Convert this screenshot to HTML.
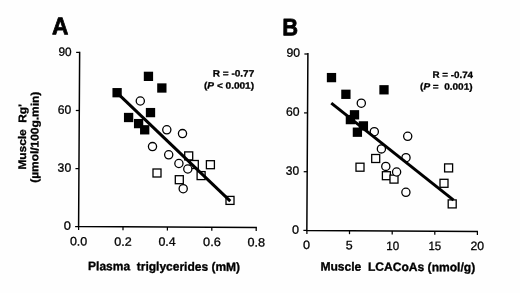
<!DOCTYPE html>
<html><head><meta charset="utf-8"><style>
html,body{margin:0;padding:0;background:#fefefe;width:520px;height:293px;overflow:hidden}
svg{display:block;will-change:transform;font-family:"Liberation Sans",sans-serif}
</style></head><body>
<svg width="520" height="293" viewBox="0 0 520 293">
<path d="M79.65,51.8 L78.6,226.5 L256.9,227.6" fill="none" stroke="#000" stroke-width="1.5" stroke-linejoin="miter"/>
<line x1="76.15" y1="52.4" x2="79.65" y2="52.4" stroke="#000" stroke-width="1.25"/>
<line x1="75.80" y1="110.5" x2="79.30" y2="110.5" stroke="#000" stroke-width="1.25"/>
<line x1="75.45" y1="168.6" x2="78.95" y2="168.6" stroke="#000" stroke-width="1.25"/>
<line x1="75.10" y1="226.6" x2="78.60" y2="226.6" stroke="#000" stroke-width="1.25"/>
<line x1="78.6" y1="226.50" x2="78.6" y2="230.00" stroke="#000" stroke-width="1.25"/>
<line x1="123.0" y1="226.77" x2="123.0" y2="230.27" stroke="#000" stroke-width="1.25"/>
<line x1="167.4" y1="227.05" x2="167.4" y2="230.55" stroke="#000" stroke-width="1.25"/>
<line x1="211.8" y1="227.32" x2="211.8" y2="230.82" stroke="#000" stroke-width="1.25"/>
<line x1="256.2" y1="227.60" x2="256.2" y2="231.10" stroke="#000" stroke-width="1.25"/>
<path d="M307.9,53.1 L306.85,230.4 L478.0,231.5" fill="none" stroke="#000" stroke-width="1.5" stroke-linejoin="miter"/>
<line x1="304.39" y1="54.0" x2="307.89" y2="54.0" stroke="#000" stroke-width="1.25"/>
<line x1="304.05" y1="112.9" x2="307.55" y2="112.9" stroke="#000" stroke-width="1.25"/>
<line x1="303.70" y1="171.7" x2="307.20" y2="171.7" stroke="#000" stroke-width="1.25"/>
<line x1="303.35" y1="230.4" x2="306.85" y2="230.4" stroke="#000" stroke-width="1.25"/>
<line x1="306.9" y1="230.40" x2="306.9" y2="233.90" stroke="#000" stroke-width="1.25"/>
<line x1="349.5" y1="230.67" x2="349.5" y2="234.17" stroke="#000" stroke-width="1.25"/>
<line x1="392.2" y1="230.95" x2="392.2" y2="234.45" stroke="#000" stroke-width="1.25"/>
<line x1="434.8" y1="231.22" x2="434.8" y2="234.72" stroke="#000" stroke-width="1.25"/>
<line x1="477.4" y1="231.50" x2="477.4" y2="235.00" stroke="#000" stroke-width="1.25"/>
<rect x="184.70" y="151.90" width="8.0" height="8.0" fill="#fefefe" stroke="#000" stroke-width="1.3"/>
<rect x="190.30" y="160.50" width="8.0" height="8.0" fill="#fefefe" stroke="#000" stroke-width="1.3"/>
<rect x="206.40" y="160.70" width="8.0" height="8.0" fill="#fefefe" stroke="#000" stroke-width="1.3"/>
<rect x="153.00" y="169.00" width="8.0" height="8.0" fill="#fefefe" stroke="#000" stroke-width="1.3"/>
<rect x="197.10" y="171.60" width="8.0" height="8.0" fill="#fefefe" stroke="#000" stroke-width="1.3"/>
<rect x="175.30" y="175.70" width="8.0" height="8.0" fill="#fefefe" stroke="#000" stroke-width="1.3"/>
<rect x="226.00" y="196.40" width="8.0" height="8.0" fill="#fefefe" stroke="#000" stroke-width="1.3"/>
<circle cx="140.3" cy="101" r="4.1" fill="#fefefe" stroke="#000" stroke-width="1.3"/>
<circle cx="166.8" cy="129.8" r="4.1" fill="#fefefe" stroke="#000" stroke-width="1.3"/>
<circle cx="182.5" cy="133.6" r="4.1" fill="#fefefe" stroke="#000" stroke-width="1.3"/>
<circle cx="152.5" cy="146.6" r="4.1" fill="#fefefe" stroke="#000" stroke-width="1.3"/>
<circle cx="168.7" cy="154.8" r="4.1" fill="#fefefe" stroke="#000" stroke-width="1.3"/>
<circle cx="178.9" cy="163.5" r="4.1" fill="#fefefe" stroke="#000" stroke-width="1.3"/>
<circle cx="187.8" cy="169" r="4.1" fill="#fefefe" stroke="#000" stroke-width="1.3"/>
<circle cx="183.2" cy="188.7" r="4.1" fill="#fefefe" stroke="#000" stroke-width="1.3"/>
<line x1="117.1" y1="92.9" x2="230.3" y2="201.2" stroke="#000" stroke-width="3.0"/>
<rect x="143.80" y="71.70" width="9.3" height="9.3" fill="#000"/>
<rect x="157.20" y="83.35" width="9.3" height="9.3" fill="#000"/>
<rect x="112.45" y="88.05" width="9.3" height="9.3" fill="#000"/>
<rect x="145.85" y="107.95" width="9.3" height="9.3" fill="#000"/>
<rect x="123.95" y="112.85" width="9.3" height="9.3" fill="#000"/>
<rect x="133.95" y="118.95" width="9.3" height="9.3" fill="#000"/>
<rect x="140.05" y="125.15" width="9.3" height="9.3" fill="#000"/>
<rect x="371.70" y="154.50" width="8.0" height="8.0" fill="#fefefe" stroke="#000" stroke-width="1.3"/>
<rect x="356.00" y="163.20" width="8.0" height="8.0" fill="#fefefe" stroke="#000" stroke-width="1.3"/>
<rect x="382.40" y="171.70" width="8.0" height="8.0" fill="#fefefe" stroke="#000" stroke-width="1.3"/>
<rect x="390.00" y="175.10" width="8.0" height="8.0" fill="#fefefe" stroke="#000" stroke-width="1.3"/>
<rect x="444.60" y="163.90" width="8.0" height="8.0" fill="#fefefe" stroke="#000" stroke-width="1.3"/>
<rect x="440.00" y="179.30" width="8.0" height="8.0" fill="#fefefe" stroke="#000" stroke-width="1.3"/>
<rect x="448.20" y="199.90" width="8.0" height="8.0" fill="#fefefe" stroke="#000" stroke-width="1.3"/>
<circle cx="361.3" cy="103.2" r="4.1" fill="#fefefe" stroke="#000" stroke-width="1.3"/>
<circle cx="374.3" cy="131.7" r="4.1" fill="#fefefe" stroke="#000" stroke-width="1.3"/>
<circle cx="407.7" cy="136.3" r="4.1" fill="#fefefe" stroke="#000" stroke-width="1.3"/>
<circle cx="381.4" cy="148.9" r="4.1" fill="#fefefe" stroke="#000" stroke-width="1.3"/>
<circle cx="406" cy="157.7" r="4.1" fill="#fefefe" stroke="#000" stroke-width="1.3"/>
<circle cx="385.8" cy="166.4" r="4.1" fill="#fefefe" stroke="#000" stroke-width="1.3"/>
<circle cx="396.6" cy="172.0" r="4.1" fill="#fefefe" stroke="#000" stroke-width="1.3"/>
<circle cx="405.9" cy="192.3" r="4.1" fill="#fefefe" stroke="#000" stroke-width="1.3"/>
<line x1="331.3" y1="103.1" x2="453.6" y2="200.2" stroke="#000" stroke-width="3.0"/>
<rect x="326.85" y="72.95" width="9.3" height="9.3" fill="#000"/>
<rect x="341.25" y="89.65" width="9.3" height="9.3" fill="#000"/>
<rect x="379.35" y="85.15" width="9.3" height="9.3" fill="#000"/>
<rect x="349.85" y="110.15" width="9.3" height="9.3" fill="#000"/>
<rect x="345.75" y="114.95" width="9.3" height="9.3" fill="#000"/>
<rect x="358.75" y="121.25" width="9.3" height="9.3" fill="#000"/>
<rect x="352.75" y="127.55" width="9.3" height="9.3" fill="#000"/>
<text transform="translate(51.973,34.238) rotate(0.35) scale(0.9086,0.9667)" font-size="25" font-weight="bold" stroke="#000" stroke-width="0.8" stroke-linejoin="round">A</text>
<text transform="translate(282.307,35.344) rotate(0.35) scale(0.8744,0.9500)" font-size="25" font-weight="bold" stroke="#000" stroke-width="0.8" stroke-linejoin="round">B</text>
<text transform="translate(58.432,55.874) rotate(0.35) scale(0.9822,1.0118)" font-size="12" font-weight="normal" stroke="#000" stroke-width="0.3" stroke-linejoin="round">90</text>
<text transform="translate(57.696,113.674) rotate(0.35) scale(1.0080,1.0118)" font-size="12" font-weight="normal" stroke="#000" stroke-width="0.3" stroke-linejoin="round">60</text>
<text transform="translate(57.620,171.674) rotate(0.35) scale(1.0139,1.0118)" font-size="12" font-weight="normal" stroke="#000" stroke-width="0.3" stroke-linejoin="round">30</text>
<text transform="translate(63.800,229.674) rotate(0.35) scale(1.0667,1.0118)" font-size="12" font-weight="normal" stroke="#000" stroke-width="0.3" stroke-linejoin="round">0</text>
<text transform="translate(286.420,56.774) rotate(0.35) scale(1.0139,1.0118)" font-size="12" font-weight="normal" stroke="#000" stroke-width="0.3" stroke-linejoin="round">90</text>
<text transform="translate(285.992,115.674) rotate(0.35) scale(1.0160,1.0118)" font-size="12" font-weight="normal" stroke="#000" stroke-width="0.3" stroke-linejoin="round">60</text>
<text transform="translate(285.826,174.674) rotate(0.35) scale(0.9980,1.0118)" font-size="12" font-weight="normal" stroke="#000" stroke-width="0.3" stroke-linejoin="round">30</text>
<text transform="translate(292.106,233.674) rotate(0.35) scale(1.0500,1.0118)" font-size="12" font-weight="normal" stroke="#000" stroke-width="0.3" stroke-linejoin="round">0</text>
<text transform="translate(69.911,245.374) rotate(0.35) scale(1.0375,1.0118)" font-size="12" font-weight="normal" stroke="#000" stroke-width="0.3" stroke-linejoin="round">0.0</text>
<text transform="translate(114.308,245.774) rotate(0.35) scale(1.0457,1.0118)" font-size="12" font-weight="normal" stroke="#000" stroke-width="0.3" stroke-linejoin="round">0.2</text>
<text transform="translate(158.412,245.774) rotate(0.35) scale(1.0357,1.0118)" font-size="12" font-weight="normal" stroke="#000" stroke-width="0.3" stroke-linejoin="round">0.4</text>
<text transform="translate(203.103,245.974) rotate(0.35) scale(1.0583,1.0118)" font-size="12" font-weight="normal" stroke="#000" stroke-width="0.3" stroke-linejoin="round">0.6</text>
<text transform="translate(247.406,246.374) rotate(0.35) scale(1.0520,1.0118)" font-size="12" font-weight="normal" stroke="#000" stroke-width="0.3" stroke-linejoin="round">0.8</text>
<text transform="translate(303.006,249.074) rotate(0.35) scale(1.0500,1.0118)" font-size="12" font-weight="normal" stroke="#000" stroke-width="0.3" stroke-linejoin="round">0</text>
<text transform="translate(345.713,249.374) rotate(0.35) scale(1.0333,1.0118)" font-size="12" font-weight="normal" stroke="#000" stroke-width="0.3" stroke-linejoin="round">5</text>
<text transform="translate(386.278,249.974) rotate(0.35) scale(0.9633,1.0118)" font-size="12" font-weight="normal" stroke="#000" stroke-width="0.3" stroke-linejoin="round">10</text>
<text transform="translate(428.384,249.974) rotate(0.35) scale(0.9551,1.0118)" font-size="12" font-weight="normal" stroke="#000" stroke-width="0.3" stroke-linejoin="round">15</text>
<text transform="translate(470.392,249.974) rotate(0.35) scale(1.0160,1.0118)" font-size="12" font-weight="normal" stroke="#000" stroke-width="0.3" stroke-linejoin="round">20</text>
<text transform="translate(88.100,270.079) rotate(0.35) scale(0.9603,0.9690)" font-size="12.5" font-weight="bold" stroke="#000" stroke-width="0.35" stroke-linejoin="round">Plasma&#160;&#160;triglycerides (mM)</text>
<text transform="translate(320.396,270.479) rotate(0.35) scale(0.9663,0.9690)" font-size="12.5" font-weight="bold" stroke="#000" stroke-width="0.35" stroke-linejoin="round">Muscle&#160;&#160;LCACoAs (nmol/g)</text>
<text transform="translate(212.783,76.380) rotate(0.35) scale(1.0337,0.9600)" font-size="9.7" font-weight="bold" stroke="#000" stroke-width="0.3" stroke-linejoin="round">R = -0.77</text>
<text transform="translate(204.011,88.580) rotate(0.35) scale(1.0379,0.9600)" font-size="9.7" font-weight="bold" stroke="#000" stroke-width="0.3" stroke-linejoin="round">(<tspan font-style="italic">P</tspan> &lt; 0.001)</text>
<text transform="translate(432.494,77.780) rotate(0.35) scale(1.0113,0.9600)" font-size="9.7" font-weight="bold" stroke="#000" stroke-width="0.3" stroke-linejoin="round">R = -0.74</text>
<text transform="translate(420.114,89.580) rotate(0.35) scale(1.0289,0.9600)" font-size="9.7" font-weight="bold" stroke="#000" stroke-width="0.3" stroke-linejoin="round">(<tspan font-style="italic">P</tspan> =&#160; 0.001)</text>
<text transform="translate(25.887,169.604) rotate(-89.65) scale(0.9663,0.9029)" font-size="12.3" font-weight="bold" stroke="#000" stroke-width="0.35" stroke-linejoin="round">Muscle&#160;&#160;Rg'</text>
<text transform="translate(38.187,182.786) rotate(-89.65) scale(0.9712,0.9029)" font-size="12.3" font-weight="bold" stroke="#000" stroke-width="0.35" stroke-linejoin="round">(&#181;mol/100g.min)</text>
</svg>
</body></html>
